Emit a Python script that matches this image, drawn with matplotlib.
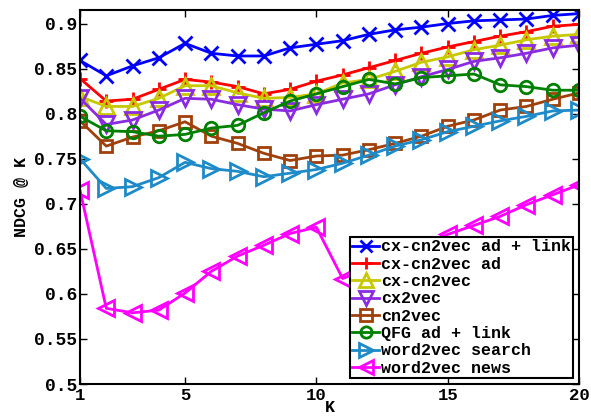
import matplotlib
matplotlib.use('Agg')
import matplotlib.pyplot as plt

# 字体: 等宽粗体
plt.rcParams['font.family'] = ['Liberation Mono', 'DejaVu Sans Mono']
plt.rcParams['font.weight'] = 'bold'

K = list(range(1, 21))

ad_link = [0.859, 0.842, 0.853, 0.862, 0.878, 0.867, 0.864, 0.864, 0.873, 0.877,
           0.881, 0.888, 0.893, 0.896, 0.900, 0.903, 0.904, 0.905, 0.909, 0.911]
ad = [0.839, 0.814, 0.816, 0.827, 0.838, 0.835, 0.830, 0.822, 0.827, 0.836,
      0.843, 0.851, 0.859, 0.867, 0.874, 0.880, 0.886, 0.891, 0.897, 0.899]
cx_cn2vec = [0.819, 0.808, 0.808, 0.817, 0.831, 0.831, 0.823, 0.817, 0.818, 0.822,
             0.834, 0.838, 0.847, 0.857, 0.863, 0.871, 0.876, 0.882, 0.886, 0.888]
cx2vec = [0.817, 0.788, 0.793, 0.804, 0.817, 0.816, 0.810, 0.805, 0.803, 0.810,
          0.816, 0.822, 0.832, 0.841, 0.849, 0.858, 0.862, 0.867, 0.873, 0.876]
cn2vec = [0.792, 0.764, 0.774, 0.781, 0.791, 0.775, 0.767, 0.756, 0.748, 0.753,
          0.754, 0.760, 0.767, 0.775, 0.786, 0.793, 0.804, 0.808, 0.816, 0.823]
qfg = [0.797, 0.781, 0.780, 0.775, 0.777, 0.784, 0.787, 0.801, 0.814, 0.822,
       0.830, 0.838, 0.833, 0.840, 0.842, 0.844, 0.832, 0.830, 0.826, 0.826]
w2v_search = [0.750, 0.717, 0.719, 0.729, 0.746, 0.739, 0.736, 0.730, 0.734, 0.738,
              0.745, 0.754, 0.764, 0.771, 0.780, 0.786, 0.792, 0.797, 0.803, 0.804]
w2v_news = [0.715, 0.584, 0.579, 0.582, 0.601, 0.625, 0.642, 0.654, 0.667, 0.674,
            0.617, 0.629, 0.641, 0.653, 0.666, 0.676, 0.686, 0.699, 0.710, 0.721]

series = [
    ('cx-cn2vec ad + link', ad_link, '#0000ff', 'x'),
    ('cx-cn2vec ad', ad, '#ff0000', '+'),
    ('cx-cn2vec', cx_cn2vec, '#c8c800', '^'),
    ('cx2vec', cx2vec, '#8a2be2', 'v'),
    ('cn2vec', cn2vec, '#a0400a', 's'),
    ('QFG ad + link', qfg, '#008000', 'o'),
    ('word2vec search', w2v_search, '#1e8bc8', '>'),
    ('word2vec news', w2v_news, '#ff00ff', '<'),
]

fig = plt.figure(figsize=(5.91, 4.19), dpi=100)
ax = fig.add_axes([0.1354, 0.0835, 0.8443, 0.8926])

for label, vals, color, marker in series:
    ms = 10 if marker in ('x', '+') else 11
    if marker in ('s', 'o'):
        ms = 9
    ax.plot(K, vals, color=color, marker=marker, lw=2, ms=ms,
            mfc='none', mec=color, mew=2, label=label)

ax.set_xlim(1, 20)
ax.set_ylim(0.5, 0.915)
ax.set_xticks([1, 5, 10, 15, 20])
ax.set_yticks([0.5, 0.55, 0.6, 0.65, 0.7, 0.75, 0.8, 0.85, 0.9])
ax.set_yticklabels(['0.5', '0.55', '0.6', '0.65', '0.7', '0.75', '0.8', '0.85', '0.9'])
ax.tick_params(direction='in', top=True, right=True, labelsize=13, length=5, width=1)
ax.tick_params(axis='x', pad=3, labelsize=12.5)
ax.tick_params(axis='y', pad=2)
for s in ax.spines.values():
    s.set_linewidth(1.5)

ax.set_xlabel('K', fontsize=12, fontweight='bold', labelpad=-2)
ax.set_ylabel('NDCG @ K', fontsize=12, fontweight='bold', labelpad=4)

leg = ax.legend(loc='lower right', fontsize=12, handlelength=1.6, handletextpad=0.1,
                labelspacing=0.14, borderpad=0.15, borderaxespad=0.35, fancybox=False,
                framealpha=1, edgecolor='black', markerscale=0.9)
leg.get_frame().set_linewidth(1.5)

plt.savefig('out.png', dpi=100)
